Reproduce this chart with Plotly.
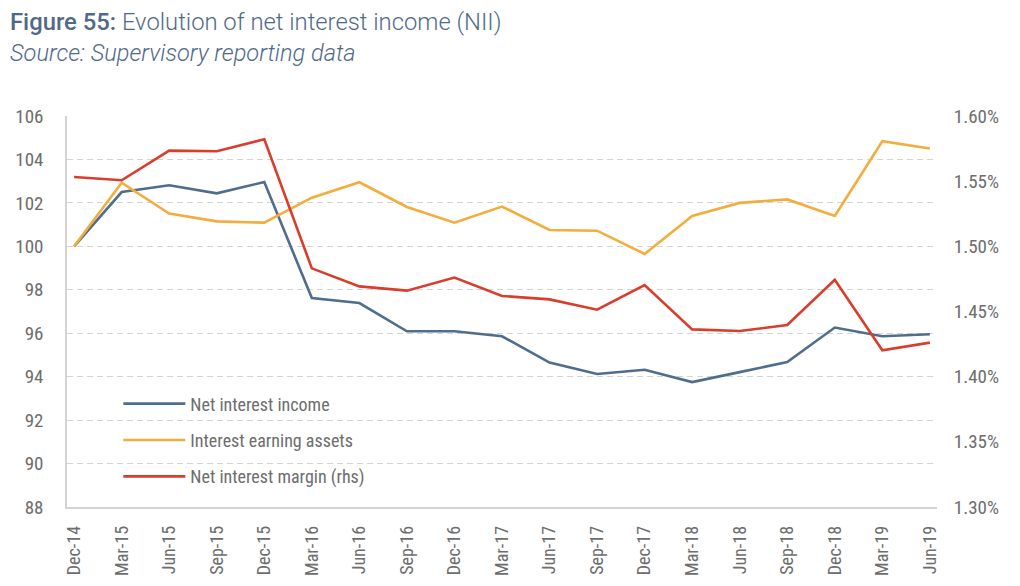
import plotly.graph_objects as go

categories = ["Dec-14", "Mar-15", "Jun-15", "Sep-15", "Dec-15", "Mar-16", "Jun-16", "Sep-16",
              "Dec-16", "Mar-17", "Jun-17", "Sep-17", "Dec-17", "Mar-18", "Jun-18", "Sep-18",
              "Dec-18", "Mar-19", "Jun-19"]

nii = [100.0, 102.5, 102.81, 102.44, 102.96, 97.62, 97.39, 96.09, 96.09, 95.86,
       94.65, 94.12, 94.32, 93.75, 94.21, 94.67, 96.26, 95.86, 95.95]

iea = [100.0, 102.93, 101.51, 101.15, 101.09, 102.24, 102.95, 101.81, 101.09, 101.83,
       100.75, 100.72, 99.65, 101.4, 102.0, 102.16, 101.4, 104.84, 104.5]

nim = [0.015532, 0.015507, 0.015734, 0.015730, 0.015821, 0.014831, 0.014693, 0.014660,
       0.014760, 0.014619, 0.014593, 0.014514, 0.014703, 0.014363, 0.014350, 0.014396,
       0.014744, 0.014202, 0.014261]

left_ticks = [88, 90, 92, 94, 96, 98, 100, 102, 104, 106]
right_ticks = [0.0130, 0.0135, 0.0140, 0.0145, 0.0150, 0.0155, 0.0160]

FONT = "Roboto Condensed, Liberation Sans Narrow, DejaVu Sans Condensed, Roboto, sans-serif"
TICK_COLOR = "#6d6d6d"
GRID = "#d4d4d4"
TITLE_COLOR = "#50698a"

fig = go.Figure()
fig.add_trace(go.Scatter(x=categories, y=nii, name="Net interest income", mode="lines",
                         line=dict(color="#4f6d8c", width=2.6), legendgroup="a"))
fig.add_trace(go.Scatter(x=categories, y=iea, name="Interest earning assets", mode="lines",
                         line=dict(color="#f2ad3d", width=2.6), legendgroup="b"))
fig.add_trace(go.Scatter(x=categories, y=nim, name="Net interest margin (rhs)", mode="lines",
                         line=dict(color="#d93d2b", width=2.6), yaxis="y2", legendgroup="c"))

fig.update_layout(
    width=1020, height=586,
    margin=dict(l=67, r=83, t=116, b=79, autoexpand=False),
    paper_bgcolor="white", plot_bgcolor="white",
    font=dict(family=FONT, color=TICK_COLOR, size=18),
    showlegend=True,
    legend=dict(x=0.059, y=0.311, xanchor="left", yanchor="top",
                bgcolor="rgba(0,0,0,0)", font=dict(size=18, color="#6d6d6d"),
                tracegroupgap=10, itemwidth=62),
    xaxis=dict(type="category", range=[-0.15, 18.15], tickangle=-90, automargin=False,
               showgrid=False, showline=True, linecolor=GRID, linewidth=1.5,
               ticks="outside", ticklen=10, tickcolor="rgba(0,0,0,0)",
               tickfont=dict(size=18, color=TICK_COLOR), zeroline=False),
    yaxis=dict(range=[88, 106], tickvals=left_ticks, showgrid=True, gridcolor=GRID,
               griddash="6px,4px", gridwidth=1.2, showline=True, linecolor=GRID, linewidth=1.5,
               ticks="outside", ticklen=18, tickcolor="rgba(0,0,0,0)", automargin=False,
               tickfont=dict(size=19, color=TICK_COLOR), zeroline=False),
    yaxis2=dict(range=[0.0130, 0.0160], tickvals=right_ticks, tickformat=".2%",
                overlaying="y", side="right", showgrid=False, showline=False, automargin=False,
                ticks="outside", ticklen=12, tickcolor="rgba(0,0,0,0)",
                tickfont=dict(size=19, color=TICK_COLOR), zeroline=False),
)

fig.add_annotation(xref="paper", yref="paper", x=-0.068, y=1.0, yshift=94,
                   xanchor="left", yanchor="middle", showarrow=False,
                   text='<span style="font-weight:500">Figure 55:</span> Evolution of net interest income (NII)',
                   font=dict(family="Roboto, sans-serif", size=23.8, color=TITLE_COLOR, weight=300))
fig.add_annotation(xref="paper", yref="paper", x=-0.068, y=1.0, yshift=63,
                   xanchor="left", yanchor="middle", showarrow=False,
                   text="<i>Source: Supervisory reporting data</i>",
                   font=dict(family="Roboto, sans-serif", size=23.6, color=TITLE_COLOR, weight=300))

fig.write_html("out.html")
